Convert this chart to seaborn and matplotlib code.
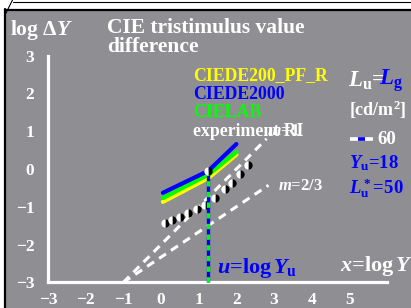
import numpy as np
import pandas as pd
import matplotlib
matplotlib.use("Agg")
import matplotlib.pyplot as plt
from matplotlib.lines import Line2D
import seaborn as sns

# ---------------------------------------------------------------------------
# Data
# ---------------------------------------------------------------------------
curve_x = [0.05, 1.255, 2.0]
ciede200_pf_r = [-0.87, -0.24, 0.38]
cielab = [-0.77, -0.15, 0.45]
ciede2000 = [-0.63, -0.05, 0.66]

ri_x = [0.11, 0.29, 0.50, 0.72, 0.95, 1.17, 1.43, 1.70, 1.88, 2.10, 2.31]
ri_y = [-1.43, -1.35, -1.27, -1.16, -1.06, -0.95, -0.77, -0.53, -0.37, -0.13, 0.11]

adapt_x = [1.255]
adapt_y = [-0.05]

m1_x = [-1.0, 2.8]
m1_y = [-3.0, 0.8]
m23_x = [-1.0, 2.85]
m23_y = [-3.0, -0.43]

u_value = np.log10(18)
u_y = [-3.0, 0.0]

xticks = [-3, -2, -1, 0, 1, 2, 3, 4, 5]
yticks = [-3, -2, -1, 0, 1, 2, 3]

legend_x = [5.01, 5.62]
legend_mid_x = [5.22, 5.41]
legend_y = 0.79

GRAY = "#8f8f93"
YEL = "#ffff00"
BLU = "#0000ff"
GRN = "#00ff00"

# ---------------------------------------------------------------------------
# Style
# ---------------------------------------------------------------------------
sns.set_theme(style="white")
plt.rcParams["font.family"] = ["Liberation Serif", "DejaVu Serif"]
plt.rcParams["font.weight"] = "bold"
plt.rcParams["mathtext.fontset"] = "custom"
plt.rcParams["mathtext.rm"] = "Liberation Serif:bold"
plt.rcParams["mathtext.bf"] = "Liberation Serif:bold"
plt.rcParams["mathtext.it"] = "Liberation Serif:bold:italic"
plt.rcParams["axes.unicode_minus"] = True


def X(px):
    return (px - 161) / 37.7


def Y(py):
    return (169 - py) / 37.8


W, H = 411, 308
fig = plt.figure(figsize=(W / 100, H / 100), dpi=100, facecolor="white")
ax = fig.add_axes([6 / W, 0, 405 / W, 298 / H])
ax.set_facecolor(GRAY)

# ---------------------------------------------------------------------------
# Marks
# ---------------------------------------------------------------------------
dash_kw = dict(color="white", linewidth=2.2, dashes=(2.7, 2.0))
sns.lineplot(x=m1_x, y=m1_y, ax=ax, **dash_kw)
sns.lineplot(x=m23_x, y=m23_y, ax=ax, **dash_kw)

curves = pd.DataFrame({
    "x": curve_x * 3,
    "y": ciede200_pf_r + cielab + ciede2000,
    "metric": ["CIEDE200_PF_R"] * 3 + ["CIELAB"] * 3 + ["CIEDE2000"] * 3,
})
sns.lineplot(data=curves, x="x", y="y", hue="metric", ax=ax,
             palette={"CIEDE200_PF_R": YEL, "CIELAB": GRN, "CIEDE2000": BLU},
             linewidth=3.0, legend=False, sort=False, estimator=None)

ax.plot(ri_x, ri_y, linestyle="none", marker="o", markersize=6,
        fillstyle="right", markerfacecolor="black", markerfacecoloralt="white",
        markeredgecolor="none", zorder=4)

ax.plot([u_value, u_value], u_y, color=BLU, linewidth=2.4, zorder=5,
        solid_capstyle="butt")
ax.plot([u_value, u_value], u_y, color=GRN, linewidth=2.4, zorder=6,
        dashes=(1.6, 1.6))
ax.plot(adapt_x, adapt_y, linestyle="none", marker="o", markersize=6,
        fillstyle="right", markerfacecolor="black", markerfacecoloralt="white",
        markeredgecolor="none", zorder=7)

# legend sample for 60 cd/m2
ax.plot(legend_x, [legend_y] * 2, color="white", linewidth=2.6,
        solid_capstyle="butt")
ax.plot(legend_mid_x, [legend_y] * 2, color=BLU, linewidth=2.6,
        solid_capstyle="butt")

# ---------------------------------------------------------------------------
# Axes: white lines at x=-3 / y=-3
# ---------------------------------------------------------------------------
ax.set_xlim(X(6), X(411))
ax.set_ylim(Y(308), Y(10))
ax.set_xlabel("")
ax.set_ylabel("")
for side in ["top", "right"]:
    ax.spines[side].set_visible(False)
ax.spines["left"].set_position(("data", -3))
ax.spines["bottom"].set_position(("data", -3))
ax.spines["left"].set_bounds(-3, 3)
ax.spines["bottom"].set_bounds(-3, 6.0)
for side in ["left", "bottom"]:
    ax.spines[side].set_color("white")
    ax.spines[side].set_linewidth(2.3)
    ax.spines[side].set_zorder(1)

ax.set_xticks(xticks)
ax.set_yticks(yticks)
ax.set_xticklabels([f"\u2212{-t}" if t < 0 else str(t) for t in xticks])
ax.set_yticklabels([f"\u2212{-t}" if t < 0 else str(t) for t in yticks])
ax.tick_params(axis="both", direction="inout", length=7.5, width=1.8,
               color="white", labelcolor="white", labelsize=12.5)
ax.tick_params(axis="y", pad=6)
ax.tick_params(axis="x", pad=3.5)
for lab in ax.get_xticklabels() + ax.get_yticklabels():
    lab.set_fontweight("bold")


# ---------------------------------------------------------------------------
# Texts
# ---------------------------------------------------------------------------
def put(px, py, s, color="white", size=11, **kw):
    ax.text(X(px), Y(py), s, color=color, fontsize=size, fontweight="bold",
            va="center", ha="left", **kw)


put(10, 30, "log \u0394$Y$", size=15.5)
put(107, 28, "CIE tristimulus value", size=15.5)
put(107, 47, "difference", size=15.5)

put(193, 76, "CIEDE200_PF_R", color=YEL, size=12.8)
put(193, 95, "CIEDE2000", color=BLU, size=12.8)
put(193, 113, "CIELAB", color=GRN, size=12.8)
put(193, 132, "experiment RI", size=12.8)
put(267, 131, "$m$=1", size=12.5)
put(278, 186, "$m$=2/3", size=12)

put(348, 81, r"$L_\mathrm{u}$=", size=16.5)
put(379, 81, r"$L_\mathrm{g}$", color=BLU, size=16.5)
put(349, 110, r"[cd/m$^2$]", size=13)
put(377, 140, "60", size=13.5)
put(349, 163, r"$Y_\mathrm{u}$=18", color=BLU, size=13.5)
put(349, 188, r"$L^*_\mathrm{u}$=50", color=BLU, size=13.5)

put(217, 268, r"$u$=log$\,Y_\mathrm{u}$", color=BLU, size=16)
put(340, 266, r"$x$=log$\,Y$", size=16)

# frame lines of the original sheet
fig.add_artist(Line2D([5 / W, 1], [1 - 9.5 / H] * 2, color="black", lw=1.6))
fig.add_artist(Line2D([5 / W] * 2, [0, 1 - 9 / H], color="black", lw=1.6))
fig.add_artist(Line2D([13 / W, 1], [1 - 1.5 / H] * 2, color="black", lw=0.8))
fig.add_artist(Line2D([5 / W, 12.5 / W], [1 - 15 / H, 1], color="black", lw=0.8))

fig.savefig("out.png", dpi=100, facecolor="white")
